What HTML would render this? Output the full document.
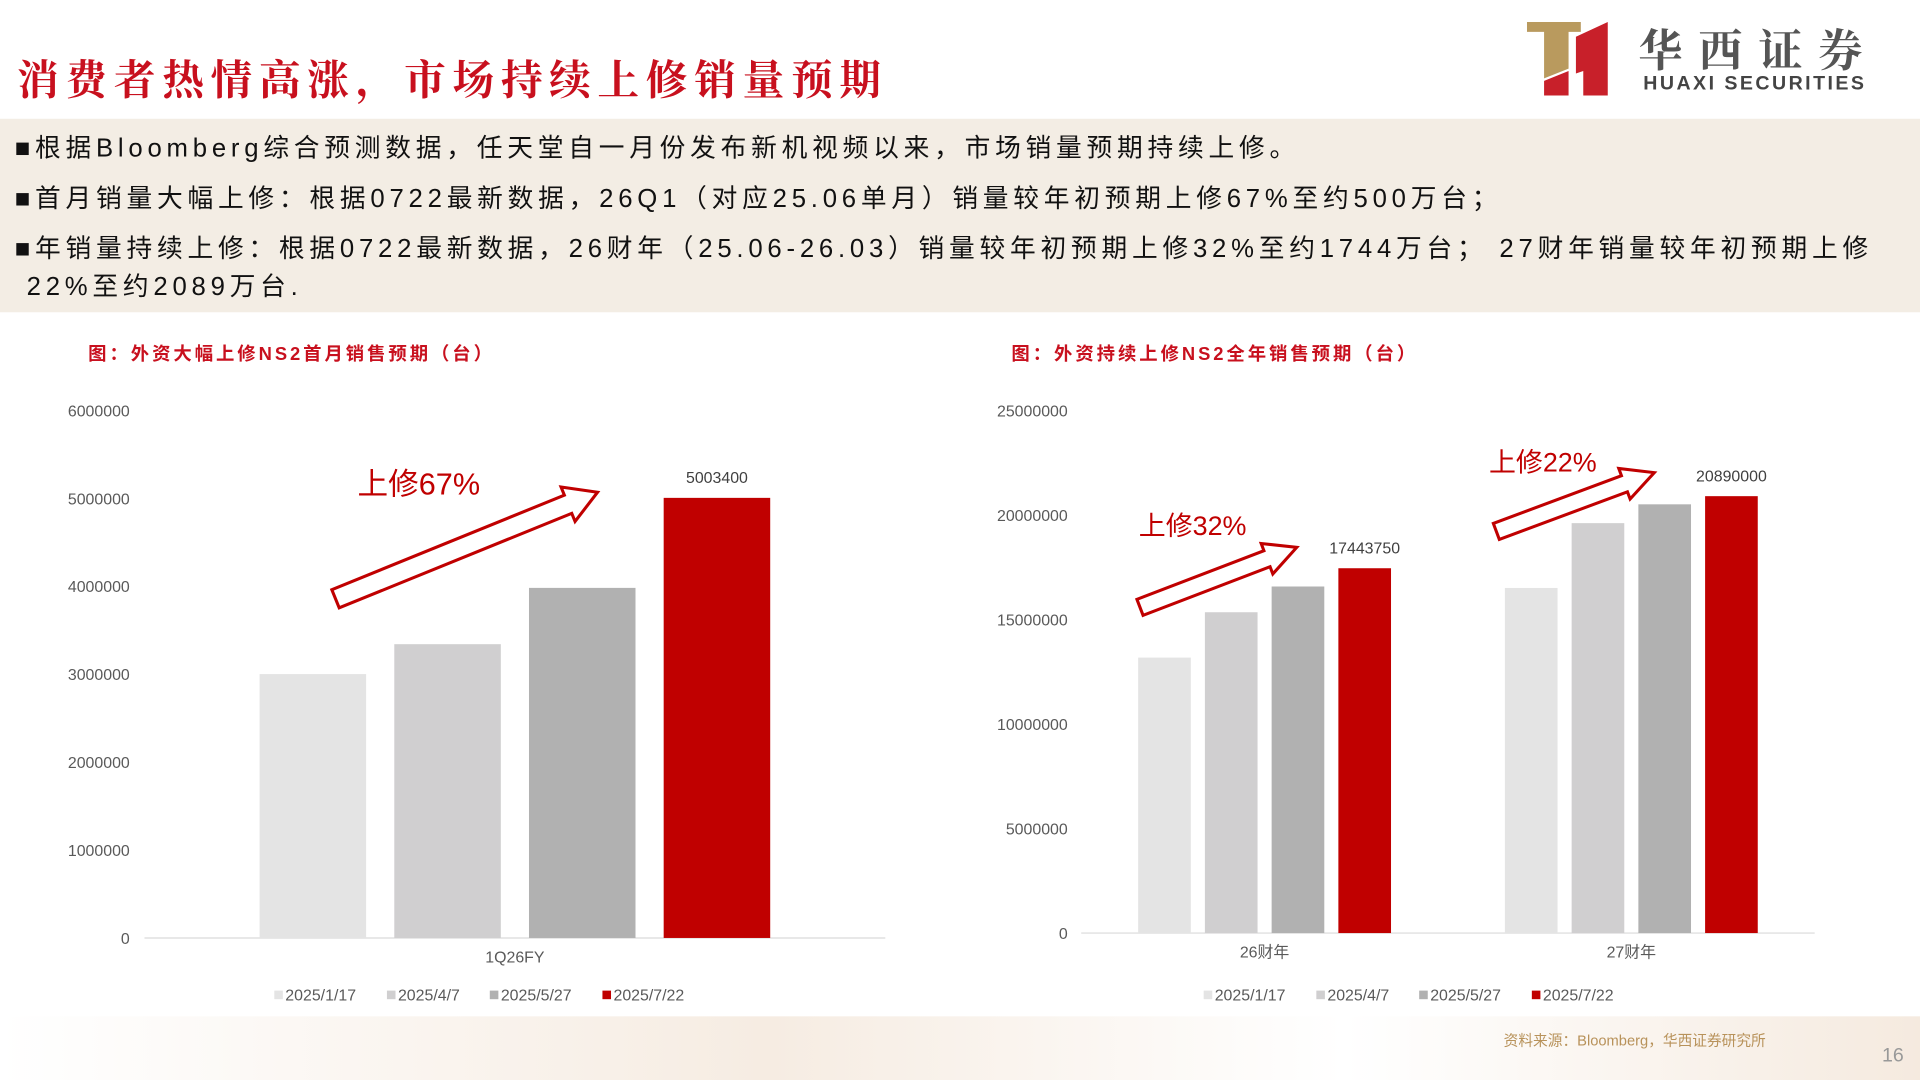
<!DOCTYPE html>
<html><head><meta charset="utf-8"><style>
html,body{margin:0;padding:0;width:1920px;height:1080px;overflow:hidden;background:#fff}
#wrap{position:absolute;left:0;top:0;width:1568px;height:882px;transform:scale(1.22449);transform-origin:0 0;font-family:"Liberation Sans","Noto Sans CJK SC",sans-serif}
.t{position:absolute;white-space:nowrap}
</style></head><body>
<div id="wrap">
<div class="t" style="left:14px;top:38px;font-size:34px;font-weight:bold;color:#c8101e;font-family:'Noto Serif CJK SC','Noto Sans CJK SC',serif;letter-spacing:5.5px">消费者热情高涨，市场持续上修销量预期</div>
<div style="position:absolute;left:1247px;top:18px;width:68px;height:60px">
<svg width="68" height="60"><path d="M0 0H44V8H34V38L14 46V8H0Z" fill="#b99a5e"/><path d="M14 48L34 40V60H14Z M40 12L66 0V60H46V40L40 42Z" fill="#c8202a"/></svg></div>
<div class="t" style="left:1338px;top:14px;font-size:36px;font-weight:bold;color:#555;letter-spacing:13px;font-family:'Noto Serif CJK SC',serif">华西证券</div>
<div class="t" style="left:1342px;top:60px;font-size:16px;font-weight:bold;color:#444;letter-spacing:2px">HUAXI SECURITIES</div>
<div style="position:absolute;left:0;top:97px;width:1568px;height:158px;background:#f3ede4"></div>
<div style="position:absolute;left:12px;top:106px;width:1556px;font-size:21px;color:#111;line-height:31px;letter-spacing:3.9px">
<div>■根据Bloomberg综合预测数据，任天堂自一月份发布新机视频以来，市场销量预期持续上修。</div>
<div style="margin-top:10px">■首月销量大幅上修：根据0722最新数据，26Q1（对应25.06单月）销量较年初预期上修67%至约500万台；</div>
<div style="margin-top:10px">■年销量持续上修：根据0722最新数据，26财年（25.06-26.03）销量较年初预期上修32%至约1744万台； 27财年销量较年初预期上修<br>&nbsp;22%至约2089万台.</div>
</div>
<div class="t" style="left:72px;top:278px;font-size:15px;font-weight:bold;color:#c8101e;letter-spacing:2.4px">图：外资大幅上修NS2首月销售预期（台）</div>
<div class="t" style="left:826px;top:278px;font-size:15px;font-weight:bold;color:#c8101e;letter-spacing:2.4px">图：外资持续上修NS2全年销售预期（台）</div>
<div style="position:absolute;left:0;top:830px;width:1568px;height:52px;background:linear-gradient(90deg,#fff,#f6ece2 40%,#fff 70%,#f5eadf)"></div>
<div class="t" style="left:1228px;top:841px;font-size:12px;color:#b8925a">资料来源：Bloomberg，华西证券研究所</div>
<div class="t" style="left:1537px;top:854px;font-size:16px;color:#999">16</div>
<svg id="chart" width="1568" height="882" style="position:absolute;left:0;top:0"></svg>
</div>
<script>
const legendLabels=["2025/1/17","2025/4/7","2025/5/27","2025/7/22"];
const colors=["#e4e4e4","#d0cfd0","#b1b1b1","#c00000"];
const leftCategories=["1Q26FY"];
const leftValues=[[3000000],[3340000],[3980000],[5003400]];
const leftTicks=[0,1000000,2000000,3000000,4000000,5000000,6000000];
const rightCategories=["26财年","27财年"];
const rightValues=[[13170000,16500000],[15340000,19600000],[16570000,20500000],[17443750,20890000]];
const rightTicks=[0,5000000,10000000,15000000,20000000,25000000];
const NS="http://www.w3.org/2000/svg";
const svg=document.getElementById('chart');
function mk(t,a,txt){const e=document.createElementNS(NS,t);for(const k in a)e.setAttribute(k,a[k]);if(txt!=null)e.textContent=txt;svg.appendChild(e);return e;}
function drawChart(o){
 const y=v=>o.y0-(v/o.max)*(o.y0-o.yTop);
 o.ticks.forEach(t=>{const e=mk('text',{x:o.tickX,y:y(t)+5,'text-anchor':'end','font-size':13,fill:'#595959','font-family':'Liberation Sans'},t);
  });
 const ax=mk('line',{x1:o.x0,x2:o.x1,y1:o.y0,y2:o.y0,stroke:'#d9d9d9','stroke-width':1});
 
 const gw=(o.x1-o.x0)/o.cats.length;
 o.cats.forEach((c,ci)=>{
  const cx=o.x0+gw*(ci+0.5);
  const start=cx-(o.bw*4+o.gap*3)/2;
  o.vals.forEach((s,si)=>{
   const v=s[ci];const bx=start+si*(o.bw+o.gap);
   const r=mk('rect',{x:bx,y:y(v),width:o.bw,height:o.y0-y(v),fill:colors[si]});
   
   if(si===3){const l=mk('text',{x:bx+o.bw/2,y:y(v)-12,'text-anchor':'middle','font-size':13,fill:'#404040','font-family':'Liberation Sans'},v);
    }
  });
  const cl=mk('text',{x:cx,y:o.y0+20,'text-anchor':'middle','font-size':13,fill:'#595959','font-family':'Liberation Sans, Noto Sans CJK SC'},c);
  
 });
 let lx=o.legX;
 legendLabels.forEach((l,i)=>{
  const r=mk('rect',{x:lx,y:o.legY-8,width:7,height:7,fill:colors[i]});
  
  const t=mk('text',{x:lx+9,y:o.legY,'font-size':13,fill:'#595959','font-family':'Liberation Sans'},l);
  
  lx+= l.length>8?92:84;
 });
}
drawChart({cats:leftCategories,vals:leftValues,ticks:leftTicks,max:6000000,y0:766,yTop:335,x0:118,x1:723,bw:87,gap:23,tickX:106,legX:224,legY:817});
drawChart({cats:rightCategories,vals:rightValues,ticks:rightTicks,max:25000000,y0:762,yTop:335,x0:883,x1:1482,bw:43,gap:11.5,tickX:872,legX:983,legY:817});
function arrow(x1,y1,x2,y2,w,name){
 const dx=x2-x1,dy=y2-y1,L=Math.hypot(dx,dy),ux=dx/L,uy=dy/L,nx=-uy,ny=ux,h=26,hw=w*1.9;
 const bx=x2-ux*h,by=y2-uy*h;
 const p=[[x1+nx*w,y1+ny*w],[bx+nx*w,by+ny*w],[bx+nx*hw,by+ny*hw],[x2,y2],[bx-nx*hw,by-ny*hw],[bx-nx*w,by-ny*w],[x1-nx*w,y1-ny*w]];
 const e=mk('polygon',{points:p.map(q=>q.join(',')).join(' '),fill:'#fff',stroke:'#c00000','stroke-width':2.5});
 
}
arrow(274,489,488,402,8,'left-arrow');
arrow(931,496,1059,447,7,'right-arrow-26');
arrow(1222,434,1351,386,7,'right-arrow-27');
[[292,404,'上修67%',25],[930,437,'上修32%',22],[1216,385,'上修22%',22]].forEach(a=>{
 const t=mk('text',{x:a[0],y:a[1],'font-size':a[3],fill:'#c00000','font-family':'Liberation Sans, Noto Sans CJK SC'},a[2]);
 
});
</script>
</body></html>
